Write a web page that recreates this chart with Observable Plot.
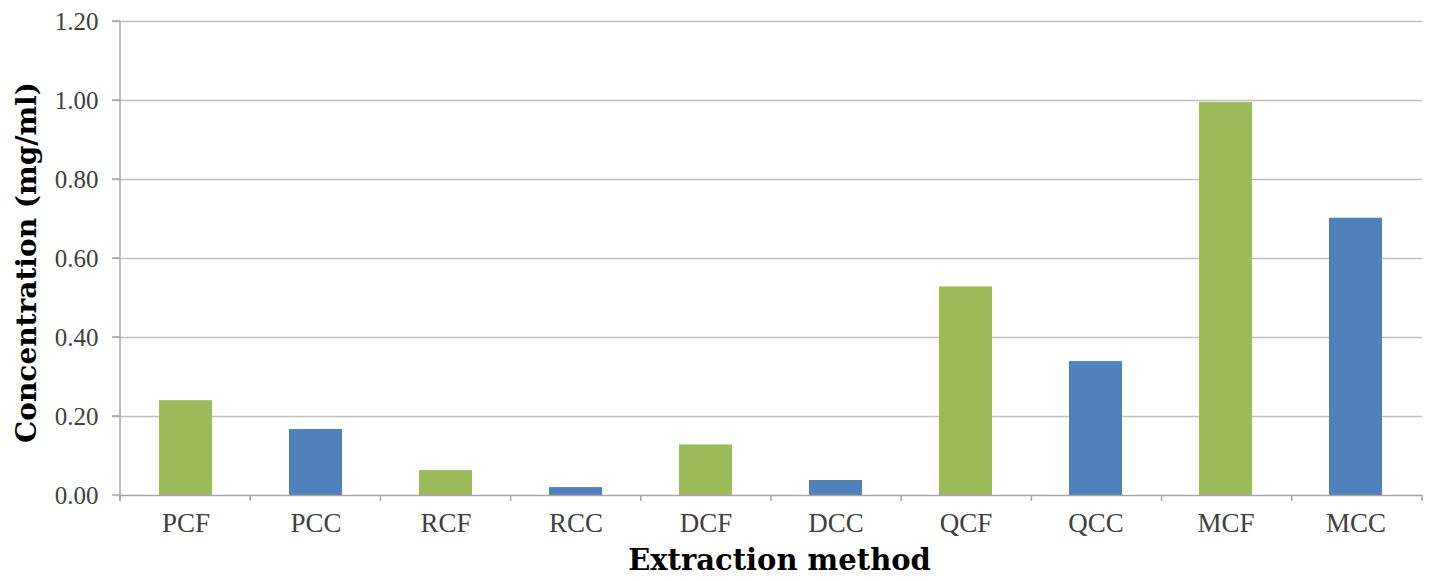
<!DOCTYPE html>
<html>
<head>
<meta charset="utf-8">
<script src="https://cdn.jsdelivr.net/npm/d3@7"></script>
<script src="https://cdn.jsdelivr.net/npm/@observablehq/plot@0.6"></script>
<style>
  html, body { margin: 0; padding: 0; background: #fff; }
  #chart svg { display: block; }
</style>
</head>
<body>
<div id="chart"></div>
<script>
const categories = ["PCF", "PCC", "RCF", "RCC", "DCF", "DCC", "QCF", "QCC", "MCF", "MCC"];
const values = [0.24, 0.167, 0.063, 0.02, 0.128, 0.038, 0.528, 0.339, 0.995, 0.702];
const groups = ["F", "C", "F", "C", "F", "C", "F", "C", "F", "C"];
const yTicks = [0, 0.2, 0.4, 0.6, 0.8, 1.0, 1.2];
const yTitle = "Concentration (mg/ml)";
const xTitle = "Extraction method";

const data = categories.map((c, i) => ({method: c, value: values[i], group: groups[i]}));

const W = 1430, H = 581;
const mL = 120, mR = 8, mT = 21, mB = 86;

const plot = Plot.plot({
  width: W,
  height: H,
  marginLeft: mL,
  marginRight: mR,
  marginTop: mT,
  marginBottom: mB,
  style: {fontFamily: "Liberation Serif", fontSize: "20px", color: "#404040", background: "#fff"},
  x: {domain: categories, paddingInner: 0.59, paddingOuter: 0.295, align: 0.5, label: null},
  y: {domain: [0, 1.2], label: null},
  color: {domain: ["F", "C"], range: ["#9BBB59", "#4F81BD"]},
  marks: [
    Plot.gridY(yTicks.slice(1), {stroke: "#bfbfbf", strokeOpacity: 1, strokeWidth: 1.5, insetLeft: -8}),
    Plot.barY(data, {x: "method", y: "value", fill: "group"}),
    Plot.ruleY([0], {stroke: "#a6a6a6", strokeWidth: 1.5}),
    Plot.axisY({ticks: yTicks, tickFormat: d3.format(".2f"), tickSize: 0, tickPadding: 22, fontSize: 25, fill: "#404040"}),
    Plot.axisX({tickSize: 0, tickPadding: 17, fontSize: 27, fill: "#404040"}),
    Plot.text([yTitle], {frameAnchor: "left", textAnchor: "middle", rotate: -90, dx: -93, dy: 4, fontSize: 28, fontWeight: "bold", fill: "#000", fontFamily: "DejaVu Serif"}),
    Plot.text([xTitle], {frameAnchor: "bottom", textAnchor: "middle", dx: 8, dy: 74, fontSize: 29, fontWeight: "bold", fill: "#000", fontFamily: "DejaVu Serif"})
  ]
});

// Category boundary tick marks and y axis line, positioned from the plot's own scales
const svg = d3.select(plot);
const xs = plot.scale("x");
const ys = plot.scale("y");
const y0 = ys.apply(0);
const yTop = ys.apply(1.2);
const left = xs.range[0];
const right = xs.range[1];
const step = (right - left) / categories.length;
const boundaries = d3.range(categories.length + 1).map(i => left + i * step);
const g = svg.append("g");
g.selectAll("line.b").data(boundaries).join("line")
  .attr("x1", d => d).attr("x2", d => d)
  .attr("y1", y0).attr("y2", y0 + 6)
  .attr("stroke", "#a6a6a6").attr("stroke-width", 1.5);
g.append("line")
  .attr("x1", left).attr("x2", left)
  .attr("y1", yTop).attr("y2", y0 + 6)
  .attr("stroke", "#a6a6a6").attr("stroke-width", 1.5);
g.selectAll("line.t").data(yTicks).join("line")
  .attr("x1", left - 8).attr("x2", left)
  .attr("y1", d => ys.apply(d)).attr("y2", d => ys.apply(d))
  .attr("stroke", "#a6a6a6").attr("stroke-width", 1.5);

document.getElementById("chart").append(plot);
</script>
</body>
</html>
